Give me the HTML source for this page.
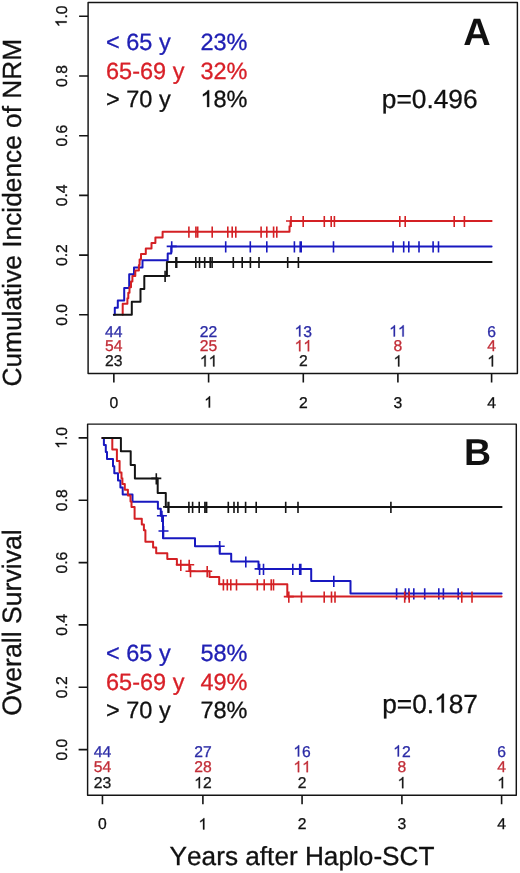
<!DOCTYPE html><html><head><meta charset="utf-8"><style>html,body{margin:0;padding:0;background:#fff;}svg{display:block;will-change:transform;}text{font-family:"Liberation Sans", sans-serif;text-rendering:geometricPrecision;font-kerning:none;font-feature-settings:'kern' 0;}</style></head><body>
<svg width="520" height="873" viewBox="0 0 520 873">
<rect width="520" height="873" fill="#fff"/>
<rect x="88.10" y="2.50" width="429.30" height="371.00" fill="none" stroke="#141414" stroke-width="1.45" stroke-linejoin="round"/>
<path d="M79.10,314.80H88.10M79.10,255.10H88.10M79.10,195.40H88.10M79.10,135.70H88.10M79.10,76.00H88.10M79.10,16.30H88.10M113.85,373.50V382.50M208.60,373.50V382.50M303.30,373.50V382.50M397.90,373.50V382.50M491.60,373.50V382.50" stroke="#141414" stroke-width="1.6" fill="none"/>
<g transform="rotate(-90 66.60 314.80)"><text x="55.69" y="314.80" font-size="15.70" fill="#111" font-weight="normal" stroke="#111" stroke-width="0.30">0.0</text></g>
<g transform="rotate(-90 66.60 255.10)"><text x="55.69" y="255.10" font-size="15.70" fill="#111" font-weight="normal" stroke="#111" stroke-width="0.30">0.2</text></g>
<g transform="rotate(-90 66.60 195.40)"><text x="55.69" y="195.40" font-size="15.70" fill="#111" font-weight="normal" stroke="#111" stroke-width="0.30">0.4</text></g>
<g transform="rotate(-90 66.60 135.70)"><text x="55.69" y="135.70" font-size="15.70" fill="#111" font-weight="normal" stroke="#111" stroke-width="0.30">0.6</text></g>
<g transform="rotate(-90 66.60 76.00)"><text x="55.69" y="76.00" font-size="15.70" fill="#111" font-weight="normal" stroke="#111" stroke-width="0.30">0.8</text></g>
<g transform="rotate(-90 66.60 16.30)"><text x="55.69" y="16.30" font-size="15.70" fill="#111" font-weight="normal" stroke="#111" stroke-width="0.30"> .0</text><path d="M763,0L583,0L583,1147Q518,1085 412,1023Q306,961 222,930L222,1104Q373,1175 486,1276Q599,1377 646,1466L763,1466Z" fill="#111" stroke="#111" stroke-width="39.1" transform="translate(55.69 16.30) scale(0.00767 -0.00767)"/></g>
<text x="109.48" y="407.60" font-size="15.70" fill="#111" font-weight="normal" stroke="#111" stroke-width="0.30">0</text>
<text x="204.23" y="407.60" font-size="15.70" fill="#111" font-weight="normal" stroke="#111" stroke-width="0.30"> </text><path d="M763,0L583,0L583,1147Q518,1085 412,1023Q306,961 222,930L222,1104Q373,1175 486,1276Q599,1377 646,1466L763,1466Z" fill="#111" stroke="#111" stroke-width="39.1" transform="translate(204.23 407.60) scale(0.00767 -0.00767)"/>
<text x="298.93" y="407.60" font-size="15.70" fill="#111" font-weight="normal" stroke="#111" stroke-width="0.30">2</text>
<text x="393.53" y="407.60" font-size="15.70" fill="#111" font-weight="normal" stroke="#111" stroke-width="0.30">3</text>
<text x="487.23" y="407.60" font-size="15.70" fill="#111" font-weight="normal" stroke="#111" stroke-width="0.30">4</text>
<rect x="87.60" y="424.10" width="428.70" height="371.20" fill="none" stroke="#141414" stroke-width="1.45" stroke-linejoin="round"/>
<path d="M78.60,749.60H87.60M78.60,687.26H87.60M78.60,624.92H87.60M78.60,562.58H87.60M78.60,500.24H87.60M78.60,437.90H87.60M102.45,795.30V804.30M202.90,795.30V804.30M302.07,795.30V804.30M401.90,795.30V804.30M501.60,795.30V804.30" stroke="#141414" stroke-width="1.6" fill="none"/>
<g transform="rotate(-90 66.60 749.60)"><text x="55.69" y="749.60" font-size="15.70" fill="#111" font-weight="normal" stroke="#111" stroke-width="0.30">0.0</text></g>
<g transform="rotate(-90 66.60 687.26)"><text x="55.69" y="687.26" font-size="15.70" fill="#111" font-weight="normal" stroke="#111" stroke-width="0.30">0.2</text></g>
<g transform="rotate(-90 66.60 624.92)"><text x="55.69" y="624.92" font-size="15.70" fill="#111" font-weight="normal" stroke="#111" stroke-width="0.30">0.4</text></g>
<g transform="rotate(-90 66.60 562.58)"><text x="55.69" y="562.58" font-size="15.70" fill="#111" font-weight="normal" stroke="#111" stroke-width="0.30">0.6</text></g>
<g transform="rotate(-90 66.60 500.24)"><text x="55.69" y="500.24" font-size="15.70" fill="#111" font-weight="normal" stroke="#111" stroke-width="0.30">0.8</text></g>
<g transform="rotate(-90 66.60 437.90)"><text x="55.69" y="437.90" font-size="15.70" fill="#111" font-weight="normal" stroke="#111" stroke-width="0.30"> .0</text><path d="M763,0L583,0L583,1147Q518,1085 412,1023Q306,961 222,930L222,1104Q373,1175 486,1276Q599,1377 646,1466L763,1466Z" fill="#111" stroke="#111" stroke-width="39.1" transform="translate(55.69 437.90) scale(0.00767 -0.00767)"/></g>
<text x="98.08" y="829.40" font-size="15.70" fill="#111" font-weight="normal" stroke="#111" stroke-width="0.30">0</text>
<text x="198.53" y="829.40" font-size="15.70" fill="#111" font-weight="normal" stroke="#111" stroke-width="0.30"> </text><path d="M763,0L583,0L583,1147Q518,1085 412,1023Q306,961 222,930L222,1104Q373,1175 486,1276Q599,1377 646,1466L763,1466Z" fill="#111" stroke="#111" stroke-width="39.1" transform="translate(198.53 829.40) scale(0.00767 -0.00767)"/>
<text x="297.70" y="829.40" font-size="15.70" fill="#111" font-weight="normal" stroke="#111" stroke-width="0.30">2</text>
<text x="397.53" y="829.40" font-size="15.70" fill="#111" font-weight="normal" stroke="#111" stroke-width="0.30">3</text>
<text x="497.23" y="829.40" font-size="15.70" fill="#111" font-weight="normal" stroke="#111" stroke-width="0.30">4</text>
<g transform="rotate(-90 21.40 386.60)"><text x="21.40" y="386.60" font-size="26.30" fill="#111" font-weight="normal" stroke="#111" stroke-width="0.30">Cumulative Incidence of NRM</text></g>
<g transform="rotate(-90 21.20 715.80)"><text x="21.20" y="715.80" font-size="26.65" fill="#111" font-weight="normal" stroke="#111" stroke-width="0.30">Overall Survival</text></g>
<text x="169.60" y="864.60" font-size="26.20" fill="#111" font-weight="normal" stroke="#111" stroke-width="0.30">Years after Haplo-SCT</text>
<text x="463.30" y="44.60" font-size="38.00" fill="#111" font-weight="bold">A</text>
<text x="464.00" y="465.40" font-size="37.50" fill="#111" font-weight="bold">B</text>
<text x="106.00" y="49.80" font-size="23.50" fill="#2020b4" font-weight="normal" stroke="#2020b4" stroke-width="0.30">&lt; 65 y</text>
<text x="200.40" y="49.80" font-size="23.50" fill="#2020b4" font-weight="normal" stroke="#2020b4" stroke-width="0.30">23%</text>
<text x="106.00" y="78.50" font-size="23.50" fill="#d82028" font-weight="normal" stroke="#d82028" stroke-width="0.30">65-69 y</text>
<text x="200.40" y="78.50" font-size="23.50" fill="#d82028" font-weight="normal" stroke="#d82028" stroke-width="0.30">32%</text>
<text x="106.00" y="107.00" font-size="23.50" fill="#111" font-weight="normal" stroke="#111" stroke-width="0.30">&gt; 70 y</text>
<text x="200.40" y="107.00" font-size="23.50" fill="#111" font-weight="normal" stroke="#111" stroke-width="0.30"> 8%</text><path d="M763,0L583,0L583,1147Q518,1085 412,1023Q306,961 222,930L222,1104Q373,1175 486,1276Q599,1377 646,1466L763,1466Z" fill="#111" stroke="#111" stroke-width="26.1" transform="translate(200.40 107.00) scale(0.01147 -0.01147)"/>
<text x="106.00" y="661.00" font-size="23.50" fill="#2020b4" font-weight="normal" stroke="#2020b4" stroke-width="0.30">&lt; 65 y</text>
<text x="200.40" y="661.00" font-size="23.50" fill="#2020b4" font-weight="normal" stroke="#2020b4" stroke-width="0.30">58%</text>
<text x="106.00" y="689.50" font-size="23.50" fill="#d82028" font-weight="normal" stroke="#d82028" stroke-width="0.30">65-69 y</text>
<text x="200.40" y="689.50" font-size="23.50" fill="#d82028" font-weight="normal" stroke="#d82028" stroke-width="0.30">49%</text>
<text x="106.00" y="718.00" font-size="23.50" fill="#111" font-weight="normal" stroke="#111" stroke-width="0.30">&gt; 70 y</text>
<text x="200.40" y="718.00" font-size="23.50" fill="#111" font-weight="normal" stroke="#111" stroke-width="0.30">78%</text>
<text x="381.80" y="107.50" font-size="26.30" fill="#111" font-weight="normal" stroke="#111" stroke-width="0.30">p=0.496</text>
<text x="382.20" y="712.50" font-size="26.30" fill="#111" font-weight="normal" stroke="#111" stroke-width="0.30">p=0. 87</text><path d="M763,0L583,0L583,1147Q518,1085 412,1023Q306,961 222,930L222,1104Q373,1175 486,1276Q599,1377 646,1466L763,1466Z" fill="#111" stroke="#111" stroke-width="23.4" transform="translate(434.12 712.50) scale(0.01284 -0.01284)"/>
<text x="105.12" y="336.50" font-size="15.70" fill="#2c2ca6" font-weight="normal" stroke="#2c2ca6" stroke-width="0.30">44</text>
<text x="199.87" y="336.50" font-size="15.70" fill="#2c2ca6" font-weight="normal" stroke="#2c2ca6" stroke-width="0.30">22</text>
<text x="294.57" y="336.50" font-size="15.70" fill="#2c2ca6" font-weight="normal" stroke="#2c2ca6" stroke-width="0.30"> 3</text><path d="M763,0L583,0L583,1147Q518,1085 412,1023Q306,961 222,930L222,1104Q373,1175 486,1276Q599,1377 646,1466L763,1466Z" fill="#2c2ca6" stroke="#2c2ca6" stroke-width="39.1" transform="translate(294.57 336.50) scale(0.00767 -0.00767)"/>
<text x="389.17" y="336.50" font-size="15.70" fill="#2c2ca6" font-weight="normal" stroke="#2c2ca6" stroke-width="0.30">  </text><path d="M763,0L583,0L583,1147Q518,1085 412,1023Q306,961 222,930L222,1104Q373,1175 486,1276Q599,1377 646,1466L763,1466Z" fill="#2c2ca6" stroke="#2c2ca6" stroke-width="39.1" transform="translate(389.17 336.50) scale(0.00767 -0.00767)"/><path d="M763,0L583,0L583,1147Q518,1085 412,1023Q306,961 222,930L222,1104Q373,1175 486,1276Q599,1377 646,1466L763,1466Z" fill="#2c2ca6" stroke="#2c2ca6" stroke-width="39.1" transform="translate(397.90 336.50) scale(0.00767 -0.00767)"/>
<text x="487.23" y="336.50" font-size="15.70" fill="#2c2ca6" font-weight="normal" stroke="#2c2ca6" stroke-width="0.30">6</text>
<text x="105.12" y="351.30" font-size="15.70" fill="#c22e38" font-weight="normal" stroke="#c22e38" stroke-width="0.30">54</text>
<text x="199.87" y="351.30" font-size="15.70" fill="#c22e38" font-weight="normal" stroke="#c22e38" stroke-width="0.30">25</text>
<text x="294.57" y="351.30" font-size="15.70" fill="#c22e38" font-weight="normal" stroke="#c22e38" stroke-width="0.30">  </text><path d="M763,0L583,0L583,1147Q518,1085 412,1023Q306,961 222,930L222,1104Q373,1175 486,1276Q599,1377 646,1466L763,1466Z" fill="#c22e38" stroke="#c22e38" stroke-width="39.1" transform="translate(294.57 351.30) scale(0.00767 -0.00767)"/><path d="M763,0L583,0L583,1147Q518,1085 412,1023Q306,961 222,930L222,1104Q373,1175 486,1276Q599,1377 646,1466L763,1466Z" fill="#c22e38" stroke="#c22e38" stroke-width="39.1" transform="translate(303.30 351.30) scale(0.00767 -0.00767)"/>
<text x="393.53" y="351.30" font-size="15.70" fill="#c22e38" font-weight="normal" stroke="#c22e38" stroke-width="0.30">8</text>
<text x="487.23" y="351.30" font-size="15.70" fill="#c22e38" font-weight="normal" stroke="#c22e38" stroke-width="0.30">4</text>
<text x="105.12" y="366.40" font-size="15.70" fill="#1a1a1a" font-weight="normal" stroke="#1a1a1a" stroke-width="0.30">23</text>
<text x="199.87" y="366.40" font-size="15.70" fill="#1a1a1a" font-weight="normal" stroke="#1a1a1a" stroke-width="0.30">  </text><path d="M763,0L583,0L583,1147Q518,1085 412,1023Q306,961 222,930L222,1104Q373,1175 486,1276Q599,1377 646,1466L763,1466Z" fill="#1a1a1a" stroke="#1a1a1a" stroke-width="39.1" transform="translate(199.87 366.40) scale(0.00767 -0.00767)"/><path d="M763,0L583,0L583,1147Q518,1085 412,1023Q306,961 222,930L222,1104Q373,1175 486,1276Q599,1377 646,1466L763,1466Z" fill="#1a1a1a" stroke="#1a1a1a" stroke-width="39.1" transform="translate(208.60 366.40) scale(0.00767 -0.00767)"/>
<text x="298.93" y="366.40" font-size="15.70" fill="#1a1a1a" font-weight="normal" stroke="#1a1a1a" stroke-width="0.30">2</text>
<text x="393.53" y="366.40" font-size="15.70" fill="#1a1a1a" font-weight="normal" stroke="#1a1a1a" stroke-width="0.30"> </text><path d="M763,0L583,0L583,1147Q518,1085 412,1023Q306,961 222,930L222,1104Q373,1175 486,1276Q599,1377 646,1466L763,1466Z" fill="#1a1a1a" stroke="#1a1a1a" stroke-width="39.1" transform="translate(393.53 366.40) scale(0.00767 -0.00767)"/>
<text x="487.23" y="366.40" font-size="15.70" fill="#1a1a1a" font-weight="normal" stroke="#1a1a1a" stroke-width="0.30"> </text><path d="M763,0L583,0L583,1147Q518,1085 412,1023Q306,961 222,930L222,1104Q373,1175 486,1276Q599,1377 646,1466L763,1466Z" fill="#1a1a1a" stroke="#1a1a1a" stroke-width="39.1" transform="translate(487.23 366.40) scale(0.00767 -0.00767)"/>
<text x="93.72" y="756.50" font-size="15.70" fill="#2c2ca6" font-weight="normal" stroke="#2c2ca6" stroke-width="0.30">44</text>
<text x="194.17" y="756.50" font-size="15.70" fill="#2c2ca6" font-weight="normal" stroke="#2c2ca6" stroke-width="0.30">27</text>
<text x="293.34" y="756.50" font-size="15.70" fill="#2c2ca6" font-weight="normal" stroke="#2c2ca6" stroke-width="0.30"> 6</text><path d="M763,0L583,0L583,1147Q518,1085 412,1023Q306,961 222,930L222,1104Q373,1175 486,1276Q599,1377 646,1466L763,1466Z" fill="#2c2ca6" stroke="#2c2ca6" stroke-width="39.1" transform="translate(293.34 756.50) scale(0.00767 -0.00767)"/>
<text x="393.17" y="756.50" font-size="15.70" fill="#2c2ca6" font-weight="normal" stroke="#2c2ca6" stroke-width="0.30"> 2</text><path d="M763,0L583,0L583,1147Q518,1085 412,1023Q306,961 222,930L222,1104Q373,1175 486,1276Q599,1377 646,1466L763,1466Z" fill="#2c2ca6" stroke="#2c2ca6" stroke-width="39.1" transform="translate(393.17 756.50) scale(0.00767 -0.00767)"/>
<text x="497.23" y="756.50" font-size="15.70" fill="#2c2ca6" font-weight="normal" stroke="#2c2ca6" stroke-width="0.30">6</text>
<text x="93.72" y="772.20" font-size="15.70" fill="#c22e38" font-weight="normal" stroke="#c22e38" stroke-width="0.30">54</text>
<text x="194.17" y="772.20" font-size="15.70" fill="#c22e38" font-weight="normal" stroke="#c22e38" stroke-width="0.30">28</text>
<text x="293.34" y="772.20" font-size="15.70" fill="#c22e38" font-weight="normal" stroke="#c22e38" stroke-width="0.30">  </text><path d="M763,0L583,0L583,1147Q518,1085 412,1023Q306,961 222,930L222,1104Q373,1175 486,1276Q599,1377 646,1466L763,1466Z" fill="#c22e38" stroke="#c22e38" stroke-width="39.1" transform="translate(293.34 772.20) scale(0.00767 -0.00767)"/><path d="M763,0L583,0L583,1147Q518,1085 412,1023Q306,961 222,930L222,1104Q373,1175 486,1276Q599,1377 646,1466L763,1466Z" fill="#c22e38" stroke="#c22e38" stroke-width="39.1" transform="translate(302.07 772.20) scale(0.00767 -0.00767)"/>
<text x="397.53" y="772.20" font-size="15.70" fill="#c22e38" font-weight="normal" stroke="#c22e38" stroke-width="0.30">8</text>
<text x="497.23" y="772.20" font-size="15.70" fill="#c22e38" font-weight="normal" stroke="#c22e38" stroke-width="0.30">4</text>
<text x="93.72" y="788.20" font-size="15.70" fill="#1a1a1a" font-weight="normal" stroke="#1a1a1a" stroke-width="0.30">23</text>
<text x="194.17" y="788.20" font-size="15.70" fill="#1a1a1a" font-weight="normal" stroke="#1a1a1a" stroke-width="0.30"> 2</text><path d="M763,0L583,0L583,1147Q518,1085 412,1023Q306,961 222,930L222,1104Q373,1175 486,1276Q599,1377 646,1466L763,1466Z" fill="#1a1a1a" stroke="#1a1a1a" stroke-width="39.1" transform="translate(194.17 788.20) scale(0.00767 -0.00767)"/>
<text x="297.70" y="788.20" font-size="15.70" fill="#1a1a1a" font-weight="normal" stroke="#1a1a1a" stroke-width="0.30">2</text>
<text x="397.53" y="788.20" font-size="15.70" fill="#1a1a1a" font-weight="normal" stroke="#1a1a1a" stroke-width="0.30"> </text><path d="M763,0L583,0L583,1147Q518,1085 412,1023Q306,961 222,930L222,1104Q373,1175 486,1276Q599,1377 646,1466L763,1466Z" fill="#1a1a1a" stroke="#1a1a1a" stroke-width="39.1" transform="translate(397.53 788.20) scale(0.00767 -0.00767)"/>
<text x="497.23" y="788.20" font-size="15.70" fill="#1a1a1a" font-weight="normal" stroke="#1a1a1a" stroke-width="0.30"> </text><path d="M763,0L583,0L583,1147Q518,1085 412,1023Q306,961 222,930L222,1104Q373,1175 486,1276Q599,1377 646,1466L763,1466Z" fill="#1a1a1a" stroke="#1a1a1a" stroke-width="39.1" transform="translate(497.23 788.20) scale(0.00767 -0.00767)"/>
<path d="M113.85,314.8H114.8V307.7H117.8V300.4H124.2V288.1H129.2V274.2H134V267.5H142.5V260.2H167.7V253.5H171.2V246.4H491.6" stroke="#1818c0" stroke-width="2.00" fill="none" stroke-linejoin="round" stroke-linecap="round"/>
<path d="M171.7,241.3V252.5M166.7,246.4H176.7M225.7,241.3V252.5M250.3,241.3V252.5M266.8,241.3V252.5M294.4,241.3V252.5M300.2,241.3V252.5M301.2,241.3V252.5M333.5,241.3V252.5M393.1,241.3V252.5M403.7,241.3V252.5M408.8,241.3V252.5M419.0,241.3V252.5M433.1,241.3V252.5M438.5,241.3V252.5" stroke="#1818c0" stroke-width="1.6" fill="none"/>
<path d="M122.7,314.8V303.7H127.4V298.2H128.3V292.7H129.5V287.2H131V281.6H132.4V276.1H135.3V270.6H138.9V265H139.6V259.5H141V254H145.8V248.4H151.5V242.9H155.4V237.4H162.6V231.7H289.5V226.3H290.5V221H491.6" stroke="#d42024" stroke-width="2.00" fill="none" stroke-linejoin="round" stroke-linecap="round"/>
<path d="M188.9,226.6V237.8M195.9,226.6V237.8M197.7,226.6V237.8M212.2,226.6V237.8M227.8,226.6V237.8M232.2,226.6V237.8M235.8,226.6V237.8M261.1,226.6V237.8M266.8,226.6V237.8M273.6,226.6V237.8M276.8,226.6V237.8" stroke="#d42024" stroke-width="1.6" fill="none"/>
<path d="M291.0,215.9V227.1M286.0,221.0H296.0M303.2,215.9V227.1M324.3,215.9V227.1M331.2,215.9V227.1M334.4,215.9V227.1M399.8,215.9V227.1M405.2,215.9V227.1M454.2,215.9V227.1M464.4,215.9V227.1" stroke="#d42024" stroke-width="1.6" fill="none"/>
<path d="M113.85,314.8H131.8V301.8H140.5V288.9H144.3V275.9H166.9V262H491.6" stroke="#141414" stroke-width="2.00" fill="none" stroke-linejoin="round" stroke-linecap="round"/>
<path d="M165.1,270.8V282.0M160.1,275.9H170.1" stroke="#141414" stroke-width="1.6" fill="none"/>
<path d="M175.9,256.9V268.1M176.7,256.9V268.1M195.8,256.9V268.1M199.5,256.9V268.1M204.7,256.9V268.1M210.2,256.9V268.1M212.1,256.9V268.1M233.3,256.9V268.1M242.2,256.9V268.1M250.4,256.9V268.1M259.0,256.9V268.1M287.7,256.9V268.1M298.4,256.9V268.1" stroke="#141414" stroke-width="1.6" fill="none"/>
<path d="M102.45,437.9H103.9V445H105.8V452H107.0V459.1H113.0V466.2H114.3V473.3H118V480.4H120.4V487.5H122.7V494.6H132.5V501.7H157.9V508.8H160.8V515.8H163V538.3H195V546.2H219.7V553.8H231.2V561.5H258.5V568.9H311.2V580.9H350.5V593.4H501.6" stroke="#1818c0" stroke-width="2.00" fill="none" stroke-linejoin="round" stroke-linecap="round"/>
<path d="M161.9,510.7V521.9M156.9,515.8H166.9" stroke="#1818c0" stroke-width="1.6" fill="none"/>
<path d="M163.5,525.9V537.1M158.5,531.0H168.5" stroke="#1818c0" stroke-width="1.6" fill="none"/>
<path d="M219.7,541.1V552.3M214.7,546.2H224.7" stroke="#1818c0" stroke-width="1.6" fill="none"/>
<path d="M245.8,556.4V567.6" stroke="#1818c0" stroke-width="1.6" fill="none"/>
<path d="M259.6,563.8V575.0M254.6,568.9H264.6M263.5,563.8V575.0M258.5,568.9H268.5M292.8,563.8V575.0M299.7,563.8V575.0M300.8,563.8V575.0" stroke="#1818c0" stroke-width="1.6" fill="none"/>
<path d="M333.8,575.8V587.0" stroke="#1818c0" stroke-width="1.6" fill="none"/>
<path d="M396.6,588.3V599.5M405.4,588.3V599.5M408.9,588.3V599.5M413.8,588.3V599.5M424.7,588.3V599.5M438.8,588.3V599.5M443.4,588.3V599.5M458.2,588.3V599.5" stroke="#1818c0" stroke-width="1.6" fill="none"/>
<path d="M102.45,437.9H112.3V449.4H116.9V461H119.6V472.5H121.5V478.3H122.4V484.1H124.8V489.8H127.9V495.6H130.5V501.4H131.5V507.1H134.6V518.7H141.8V524.5H143.9V530.2H145.4V541.8H153.1V547.5H156.2V553.3H167.3V559.1H176.9V564.8H189.8V571.2H209.5V577H219.2V584.3H287.3V596.6H501.6" stroke="#d42024" stroke-width="2.00" fill="none" stroke-linejoin="round" stroke-linecap="round"/>
<path d="M180.8,559.7V570.9M175.8,564.8H185.8M189.2,559.7V570.9M184.2,564.8H194.2" stroke="#d42024" stroke-width="1.6" fill="none"/>
<path d="M190.5,566.1V577.3M185.5,571.2H195.5M207.2,566.1V577.3M202.2,571.2H212.2" stroke="#d42024" stroke-width="1.6" fill="none"/>
<path d="M223.4,579.2V590.4M218.4,584.3H228.4M227.3,579.2V590.4M230.8,579.2V590.4M236.5,579.2V590.4M257.3,579.2V590.4M264.2,579.2V590.4M271.2,579.2V590.4M273.5,579.2V590.4" stroke="#d42024" stroke-width="1.6" fill="none"/>
<path d="M288.8,591.5V602.7M283.8,596.6H293.8M301.5,591.5V602.7M324.2,591.5V602.7M331.5,591.5V602.7M335.0,591.5V602.7M404.7,591.5V602.7M409.2,591.5V602.7M461.8,591.5V602.7M472.0,591.5V602.7" stroke="#d42024" stroke-width="1.6" fill="none"/>
<path d="M102.45,437.9H120.9V451.3H130.7V464.9H134.9V478.4H157.7V493.1H165.8V506.9H501.6" stroke="#141414" stroke-width="2.00" fill="none" stroke-linejoin="round" stroke-linecap="round"/>
<path d="M156.3,473.3V484.5M151.3,478.4H161.3" stroke="#141414" stroke-width="1.6" fill="none"/>
<path d="M168.1,501.8V513.0M163.1,506.9H173.1M168.8,501.8V513.0M163.8,506.9H173.8M188.9,501.8V513.0M192.6,501.8V513.0M199.2,501.8V513.0M204.9,501.8V513.0M206.6,501.8V513.0M228.3,501.8V513.0M234.0,501.8V513.0M237.9,501.8V513.0M245.6,501.8V513.0M256.2,501.8V513.0M285.7,501.8V513.0M298.0,501.8V513.0M390.9,501.8V513.0" stroke="#141414" stroke-width="1.6" fill="none"/>
</svg></body></html>
